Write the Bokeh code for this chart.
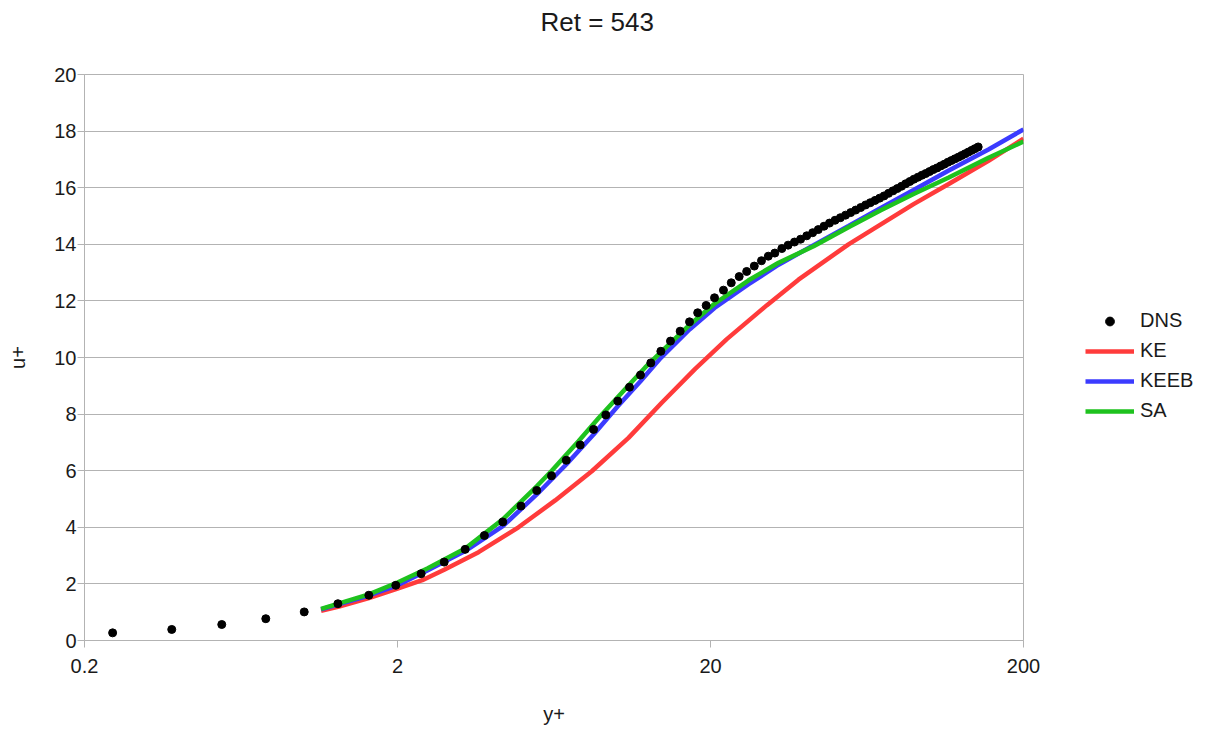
from bokeh.plotting import figure
from bokeh.models import (FixedTicker, CustomJSTickFormatter, Legend, LegendItem,
                          Range1d, Title, ColumnDataSource)
from bokeh.embed import file_html
from bokeh.resources import INLINE

# ---------------- data ----------------
dns_y = [0.246, 0.38, 0.549, 0.759, 1.007, 1.29, 1.62, 1.975, 2.38, 2.82,
         3.29, 3.79, 4.34, 4.96, 5.57, 6.21, 6.92, 7.67, 8.46, 9.26,
         10.11, 11.02, 11.95, 12.89, 13.88, 14.90, 16.0, 17.14, 18.2, 19.37,
         20.6, 22.0, 23.3, 24.7, 26.1, 27.6, 29.1, 30.6, 32.1, 33.8,
         35.4, 37.1, 38.8, 40.6, 42.4, 44.2, 46.1, 48.0, 50.0, 52.0,
         54.0, 56.1, 58.2, 60.4, 62.6, 64.8, 67.1, 69.4, 71.7, 74.1,
         76.6, 79.0, 81.5, 84.1, 86.7, 89.3, 92.0, 94.7, 97.4, 100.2,
         103.0, 105.9, 108.8, 111.7, 114.7, 117.7, 120.8, 123.9, 127.0, 130.2,
         133.4, 136.7, 139.9, 143.3]
dns_u = [0.27, 0.39, 0.565, 0.77, 1.01, 1.30, 1.60, 1.95, 2.36, 2.77,
         3.22, 3.71, 4.19, 4.75, 5.30, 5.82, 6.37, 6.91, 7.46, 7.97,
         8.46, 8.95, 9.38, 9.81, 10.22, 10.58, 10.93, 11.26, 11.58, 11.84,
         12.11, 12.38, 12.64, 12.86, 13.04, 13.23, 13.42, 13.58, 13.69, 13.85,
         13.97, 14.08, 14.18, 14.30, 14.41, 14.52, 14.64, 14.75, 14.85, 14.94,
         15.03, 15.12, 15.21, 15.30, 15.39, 15.47, 15.55, 15.63, 15.71, 15.80,
         15.89, 15.97, 16.05, 16.14, 16.22, 16.30, 16.37, 16.44, 16.50, 16.57,
         16.64, 16.70, 16.77, 16.83, 16.90, 16.96, 17.02, 17.08, 17.14, 17.20,
         17.26, 17.32, 17.38, 17.44]

ke_y = [1.14, 1.30, 1.62, 2.0, 2.4, 2.82, 3.63, 4.87, 6.38, 8.35, 10.94,
        13.97, 17.87, 22.55, 30.3, 38.2, 55.2, 89.1, 115.0, 154.6, 200.0]
ke_u = [1.05, 1.20, 1.50, 1.83, 2.13, 2.50, 3.12, 4.00, 4.95, 5.98, 7.16,
        8.40, 9.60, 10.65, 11.85, 12.75, 14.0, 15.42, 16.12, 16.95, 17.73]

keeb_y = [1.14, 1.62, 2.0, 2.5, 3.29, 4.34, 5.57, 6.92, 8.46, 10.11, 11.95,
          13.88, 17.14, 20.6, 26.4, 33.0, 42.7, 55.2, 70.0, 89.1, 115.0,
          154.6, 200.0]
keeb_u = [1.10, 1.59, 1.95, 2.48, 3.16, 4.04, 5.16, 6.22, 7.28, 8.28, 9.16,
          9.99, 10.99, 11.75, 12.58, 13.28, 13.97, 14.65, 15.28, 15.92, 16.6,
          17.35, 18.06]

sa_y = [1.14, 1.62, 2.0, 2.5, 3.29, 4.34, 5.57, 6.22, 7.57, 8.77, 10.81,
        12.37, 13.97, 17.14, 20.6, 26.4, 33.0, 42.7, 55.2, 70.0, 89.1,
        115.0, 154.6, 200.0]
sa_u = [1.12, 1.63, 2.05, 2.55, 3.25, 4.28, 5.45, 6.0, 7.04, 7.85, 8.95,
        9.65, 10.22, 11.15, 11.9, 12.72, 13.35, 13.93, 14.6, 15.2, 15.78,
        16.35, 17.06, 17.63]

x_ticks = [0.2, 2, 20, 200]
x_tick_labels = ["0.2", "2", "20", "200"]
y_ticks = [0, 2, 4, 6, 8, 10, 12, 14, 16, 18, 20]

series_names = ["DNS", "KE", "KEEB", "SA"]
title_text = "Ret = 543"
x_label = "y+"
y_label = "u+"

# ---------------- styling ----------------
FONT = "Liberation Sans"
GRID = "#b3b3b3"
TXT = "#1a1a1a"
RED = "#ff3b3b"
BLUE = "#3b3bff"
GREEN = "#1ec21e"

p = figure(x_axis_type="log",
           x_range=Range1d(0.2, 200), y_range=Range1d(0, 20),
           frame_width=939, frame_height=566,
           min_border_left=84, min_border_right=179,
           min_border_top=73, min_border_bottom=82,
           output_backend="svg", toolbar_location=None,
           background_fill_color="white", border_fill_color="white")
# a second y range used only to keep the legend proxy glyphs out of view
p.extra_y_ranges = {"legend_proxy": Range1d(100, 200)}

# spacer between the frame and the title (pushes the title up)
p.add_layout(Title(text=" ", text_font_size="1px", standoff=30), "above")
p.title = Title(text=title_text, align="left", offset=456,
                text_font=FONT, text_font_size="26px",
                text_font_style="normal", text_color=TXT, standoff=9)

p.outline_line_color = GRID
p.outline_line_width = 1
p.xgrid.grid_line_color = None
p.ygrid.grid_line_color = GRID
p.ygrid.ticker = FixedTicker(ticks=y_ticks)

p.xaxis.ticker = FixedTicker(ticks=x_ticks, minor_ticks=[])
p.xaxis.formatter = CustomJSTickFormatter(
    args=dict(t=x_ticks, l=x_tick_labels),
    code="""
    for (let i = 0; i < t.length; i++) {
        if (Math.abs(Math.log(t[i] / tick)) < 1e-6) return l[i];
    }
    return '';
    """)
p.yaxis.ticker = FixedTicker(ticks=y_ticks, minor_ticks=[])

for ax in (p.xaxis[0], p.yaxis[0]):
    ax.axis_line_color = GRID
    ax.major_tick_line_color = GRID
    ax.major_tick_in = 0
    ax.major_tick_out = 7
    ax.minor_tick_line_color = None
    ax.major_label_text_font = FONT
    ax.major_label_text_font_size = "20px"
    ax.major_label_text_color = TXT
    ax.axis_label_text_font = FONT
    ax.axis_label_text_font_size = "20px"
    ax.axis_label_text_font_style = "normal"
    ax.axis_label_text_color = TXT

p.xaxis.axis_label = x_label
p.yaxis.axis_label = y_label
p.xaxis.major_label_standoff = 11
p.xaxis.axis_label_standoff = 27
p.yaxis.major_label_standoff = 1
p.yaxis.axis_label_standoff = 22

r_ke = p.line(ke_y, ke_u, line_color=RED, line_width=4.5)
r_keeb = p.line(keeb_y, keeb_u, line_color=BLUE, line_width=4.5)
r_sa = p.line(sa_y, sa_u, line_color=GREEN, line_width=4.5)
dns_src = ColumnDataSource(dict(x=dns_y, y=dns_u))
r_dns = p.scatter("x", "y", source=dns_src, marker="circle", size=8,
                  fill_color="black", line_color="black")
# legend proxy: same data on the hidden range (out of the frame), larger marker
r_dns_leg = p.scatter("x", "y", source=dns_src, y_range_name="legend_proxy",
                      marker="circle", size=13,
                      fill_color="black", line_color="black")

legend = Legend(items=[LegendItem(label=series_names[0], renderers=[r_dns_leg]),
                       LegendItem(label=series_names[1], renderers=[r_ke]),
                       LegendItem(label=series_names[2], renderers=[r_keeb]),
                       LegendItem(label=series_names[3], renderers=[r_sa])],
                location=(62, 218),
                glyph_width=49, glyph_height=22, label_height=22,
                label_standoff=6, spacing=7, padding=0, margin=0,
                border_line_color=None, background_fill_alpha=0,
                label_text_font=FONT, label_text_font_size="20px",
                label_text_color=TXT)
p.add_layout(legend, "right")

open("out.html", "w").write(file_html(p, INLINE))
